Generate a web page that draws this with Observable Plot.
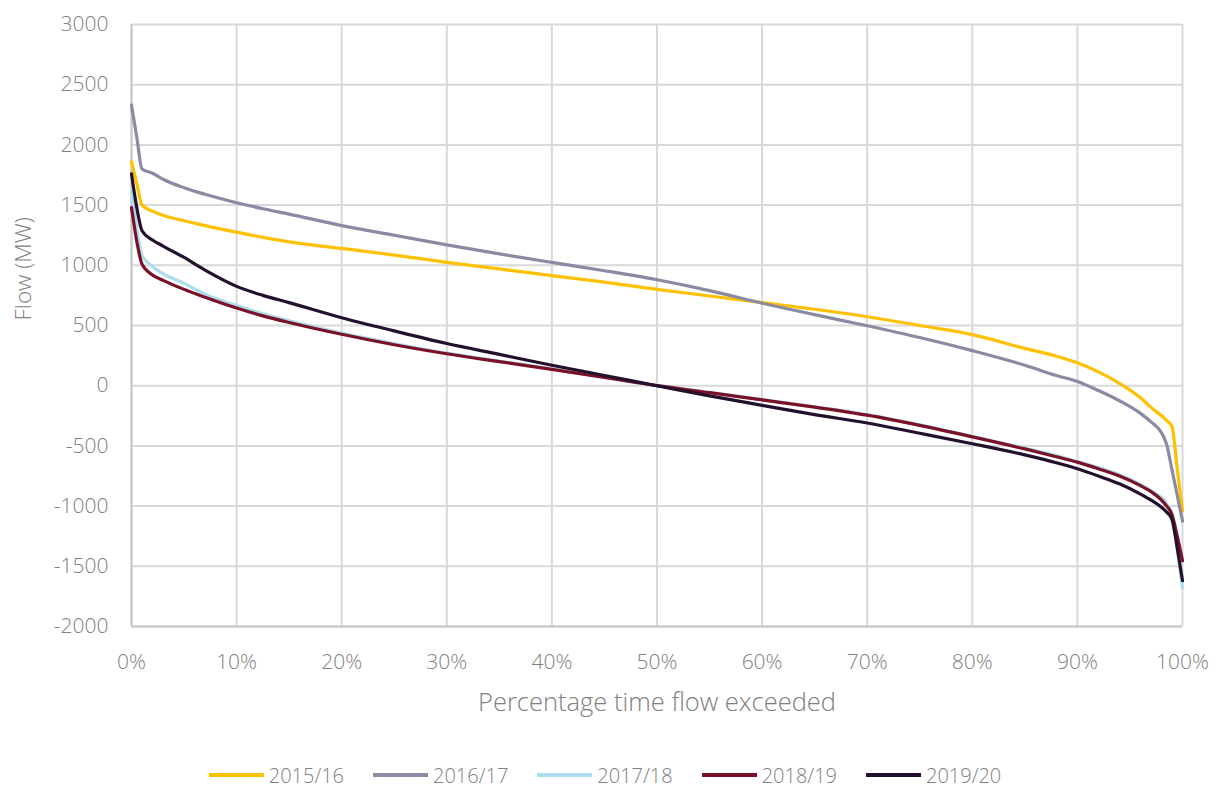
<!DOCTYPE html>
<html><head><meta charset="utf-8">
<script src="https://cdn.jsdelivr.net/npm/d3@7"></script>
<script src="https://cdn.jsdelivr.net/npm/@observablehq/plot@0.6"></script>
<style>
body{margin:0;background:#fff;font-family:"Open Sans",sans-serif;font-weight:300;}
#legend{display:flex;justify-content:center;gap:29px;font-size:20px;color:#808080;height:30px;align-items:center;padding-right:6px}
.item{display:flex;align-items:center;gap:5px}
.sw{width:55px;height:4px}
svg text{font-weight:300}
</style></head><body><div id="chart"></div><div id="legend"></div>
<script>
const pct = [0,0.5,1,2,3,5,7,10,12.5,15,20,25,30,35,40,45,50,55,60,65,70,75,80,85,88,90,92,94,96,97,98,98.5,99,99.5,100];
const flow1516 = [1860,1680,1500,1450,1415,1370,1330,1275,1232,1195,1140,1085,1025,970,914,860,800,745,690,635,573,500,424,310,245,190,115,20,-100,-180,-250,-290,-340,-690,-1040];
const flow1617 = [2330,2065,1800,1765,1715,1645,1590,1520,1470,1425,1330,1250,1170,1095,1024,955,880,790,685,590,498,400,291,170,85,35,-40,-125,-230,-300,-390,-490,-700,-910,-1125];
const flow1718 = [1620,1300,1080,990,930,850,760,665,598,540,437,350,270,205,140,70,0,-55,-115,-175,-240,-325,-420,-520,-580,-630,-680,-740,-820,-870,-930,-980,-1080,-1350,-1680];
const flow1819 = [1480,1200,1010,920,875,800,735,645,580,525,427,340,265,200,135,68,0,-58,-118,-178,-245,-330,-425,-525,-590,-635,-690,-750,-830,-880,-950,-1000,-1070,-1250,-1454];
const flow1920 = [1760,1480,1287,1210,1160,1065,960,825,750,690,565,455,350,260,170,85,0,-85,-163,-240,-310,-395,-482,-575,-640,-690,-750,-815,-900,-950,-1010,-1050,-1110,-1350,-1620];
const seriesNames = ["2015/16","2016/17","2017/18","2018/19","2019/20"];
const seriesColors = ["#FFC000","#8A8AA2","#ADDCEC","#7A1128","#22102C"];
const xTicks = [0,10,20,30,40,50,60,70,80,90,100];
const yTicks = [-2000,-1500,-1000,-500,0,500,1000,1500,2000,2500,3000];

const allSeries = [flow1516, flow1617, flow1718, flow1819, flow1920];
const rows = [];
allSeries.forEach((vals, i) => vals.forEach((v, j) => rows.push({series: seriesNames[i], pct: pct[j], flow: v})));

const txt = "#808080";
const chart = Plot.plot({
  width: 1216, height: 760,
  marginLeft: 131, marginRight: 34, marginTop: 24, marginBottom: 134,
  style: {fontFamily: "'Open Sans', sans-serif", background: "#fff", color: txt},
  x: {domain: [0, 100]},
  y: {domain: [-2000, 3000]},
  color: {domain: seriesNames, range: seriesColors},
  marks: [
    Plot.gridX(xTicks, {stroke: "#d9d9d9", strokeOpacity: 1, strokeWidth: 2}),
    Plot.gridY(yTicks, {stroke: "#d9d9d9", strokeOpacity: 1, strokeWidth: 2}),
    Plot.ruleX([0], {stroke: "#c8c8c8", strokeWidth: 2}),
    Plot.ruleY([-2000], {stroke: "#c8c8c8", strokeWidth: 2}),
    Plot.axisX(xTicks, {tickSize: 0, tickPadding: 28, tickFormat: d => d + "%", fontSize: 21, fill: txt, label: null}),
    Plot.axisY(yTicks, {tickSize: 0, tickPadding: 23, tickFormat: d => String(d), fontSize: 21, fill: txt, label: null}),
    Plot.lineY(rows, {x: "pct", y: "flow", z: "series", stroke: "series", strokeWidth: 3.2, strokeLinejoin: "round", curve: "monotone-x"}),
    Plot.text(["Percentage time flow exceeded"], {frameAnchor: "bottom", dy: 84, fontSize: 25.5, fill: txt}),
    Plot.text(["Flow (MW)"], {frameAnchor: "left", dx: -108, dy: -5, rotate: -90, fontSize: 22.5, fill: txt})
  ]
});
document.getElementById("chart").appendChild(chart);

const lg = document.getElementById("legend");
seriesNames.forEach((n, i) => {
  const it = document.createElement("div"); it.className = "item";
  const sw = document.createElement("div"); sw.className = "sw"; sw.style.background = seriesColors[i];
  const t = document.createElement("span"); t.textContent = n;
  it.appendChild(sw); it.appendChild(t); lg.appendChild(it);
});
</script></body></html>
